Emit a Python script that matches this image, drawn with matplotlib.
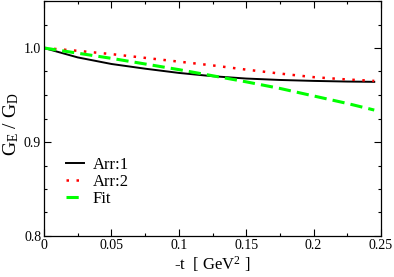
import matplotlib
matplotlib.use("Agg")
import matplotlib.pyplot as plt
from matplotlib.ticker import MultipleLocator, FixedLocator, FixedFormatter

plt.rcParams['font.family'] = ['Liberation Serif', 'DejaVu Serif']
plt.rcParams['mathtext.fontset'] = 'custom'
plt.rcParams['mathtext.rm'] = 'Liberation Serif'
plt.rcParams['mathtext.it'] = 'Liberation Serif:italic'

# values
t_vals = [0.0, 0.025, 0.05, 0.075, 0.1, 0.125, 0.15, 0.175, 0.2, 0.225, 0.245]
arr1 = [1.0, 0.990, 0.983, 0.978, 0.9735, 0.970, 0.9675, 0.966, 0.965, 0.9643, 0.964]
arr2 = [1.0, 0.997, 0.9935, 0.9895, 0.9855, 0.9815, 0.977, 0.9728, 0.969, 0.9665, 0.965]
fit = [1.0, 0.9945, 0.989, 0.983, 0.977, 0.9705, 0.964, 0.957, 0.949, 0.941, 0.934]

xticks = [0, 0.05, 0.1, 0.15, 0.2, 0.25]
xtick_labels = ["0", "0.05", "0.1", "0.15", "0.2", "0.25"]
yticks = [0.8, 0.9, 1.0]
ytick_labels = ["0.8", "0.9", "1.0"]

fig = plt.figure(figsize=(3.94, 2.77), dpi=100)
ax = fig.add_axes([44 / 394, 41 / 277, 337 / 394, 235 / 277])

ax.plot(t_vals, arr1, color='black', lw=1.4, label='Arr:1')
ax.plot(t_vals, arr2, color='#ff0000', lw=1.8, linestyle=(0, (1, 3)), label='Arr:2')
ax.plot(t_vals, fit, color='#00ff00', lw=2.2, linestyle=(0, (4, 2)), label='Fit')

ax.set_xlim(0, 0.25)
ax.set_ylim(0.8, 1.05)
ax.xaxis.set_major_locator(FixedLocator(xticks))
ax.xaxis.set_major_formatter(FixedFormatter(xtick_labels))
ax.xaxis.set_minor_locator(MultipleLocator(0.025))
ax.yaxis.set_major_locator(FixedLocator(yticks))
ax.yaxis.set_major_formatter(FixedFormatter(ytick_labels))
ax.yaxis.set_minor_locator(MultipleLocator(0.025))
ax.tick_params(which='both', direction='in', top=True, right=True, labelsize=10, pad=2)
ax.tick_params(which='major', length=5, width=0.8)
ax.tick_params(which='minor', length=2.5, width=0.8)
for sp in ax.spines.values():
    sp.set_linewidth(0.9)

ax.set_xlabel(r"-t  [ GeV$^2$ ]", fontsize=12, labelpad=2)
# y label drawn as figure text so the rotation is explicit
fig.text(11 / 394, 1 - 124 / 277, r"G$_\mathrm{E}$ / G$_\mathrm{D}$", fontsize=14,
         rotation=90, rotation_mode='anchor', ha='center', va='center')

ax.legend(loc='upper left', bbox_to_anchor=(0.045, 0.365), frameon=False, fontsize=12,
          handlelength=1.1, handletextpad=0.5, labelspacing=0.05, borderaxespad=0)

fig.savefig("out.png", dpi=100)
